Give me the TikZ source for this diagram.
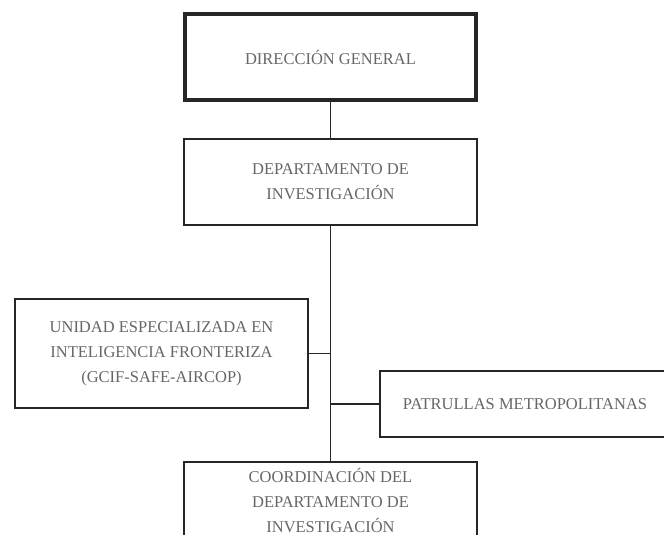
\documentclass[tikz,border=0pt]{standalone}
\usepackage{fontspec}
\setmainfont{Liberation Serif}
\tikzset{
	caja/.style={draw=black!85, line width=1.2pt, align=center, text=black!60, inner sep=0pt, font=\fontsize{16.5}{25}\selectfont},
	linea/.style={draw=black!85, line width=1.2pt}
}
\begin{document}
\begin{tikzpicture}[x=1pt,y=-1pt]
			\useasboundingbox (0,0) rectangle (664,535);
			\clip (0,0) rectangle (664,535);
			
			\node[caja, line width=4pt, minimum width=291pt, minimum height=86pt](dg) at (330.5,57) {DIRECCIÓN GENERAL};
			\node[caja, minimum width=293pt, minimum height=86pt](dep) at (330.5,182) {DEPARTAMENTO DE\\INVESTIGACIÓN};
			\node[caja, minimum width=293pt, minimum height=109pt](unidad) at (161.5,353.5) {UNIDAD ESPECIALIZADA EN\\INTELIGENCIA FRONTERIZA\\(GCIF-SAFE-AIRCOP)};
			\node[caja, minimum width=290pt, minimum height=66pt](patrullas) at (525,404) {PATRULLAS METROPOLITANAS};
			\node[caja, minimum width=293pt, minimum height=78pt](coord) at (330.5,501) {COORDINACIÓN DEL\\DEPARTAMENTO DE\\INVESTIGACIÓN};
			
			\draw[linea](dg.south)--(dep.north);
			\draw[linea](dep.south)--(coord.north);
			\draw[linea](unidad.east)--(unidad.east -| dep.south);
			\draw[linea](patrullas.west)--(patrullas.west -| dep.south);
\end{tikzpicture}
\end{document}
